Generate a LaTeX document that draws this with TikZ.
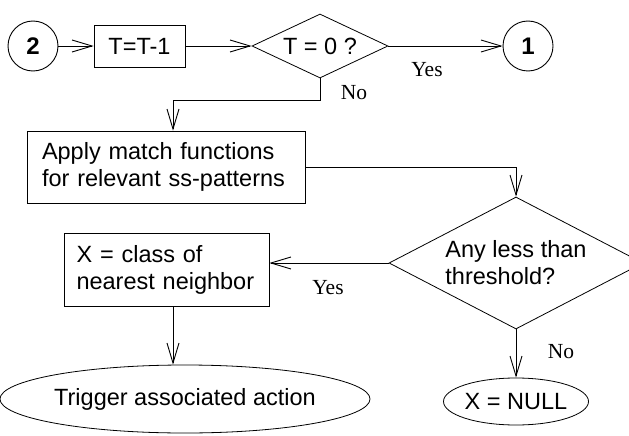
\documentclass[tikz,border=0pt]{standalone}
\usepackage{fontspec}
\setmainfont{Liberation Serif}
\newfontfamily\boxfont{Liberation Sans}
\usetikzlibrary{
    arrows.meta,
    shapes.geometric,
    calc,
    positioning
}
\tikzset{
    conn/.style={circle, draw, line width=0.9pt, minimum size=50pt, inner sep=0pt, font=\boxfont\bfseries\fontsize{24}{28}\selectfont},
    proc/.style={rectangle, draw, line width=0.8pt, inner sep=0pt, font=\boxfont\fontsize{23.5}{27}\selectfont},
    decide/.style={diamond, draw, line width=0.8pt, inner sep=0pt, font=\boxfont\fontsize{23.5}{27}\selectfont},
    term/.style={ellipse, draw, line width=0.8pt, inner sep=0pt, font=\boxfont\fontsize{23.5}{27}\selectfont},
    flow/.style={-{Straight Barb[length=20pt, width=12pt]}, line width=0.9pt},
    lbl/.style={font=\fontsize{21.5}{25}\selectfont}
}

\begin{document}
\begin{tikzpicture}[x=1pt, y=-1pt]
    \useasboundingbox (0, 0) rectangle (629, 436);
    % top row
    \node[conn] (two) at (33, 46) {2};
    \node[proc, minimum width=91pt, minimum height=42pt] (dec) at (139.5, 46) {T=T-1};
    \node[decide, aspect=2.1, minimum width=136pt, minimum height=64pt] (zero) at (320, 46) {T = 0 ?};
    \node[conn] (one) at (528, 46) {1};
    % middle
    \node[proc, text width=248pt, align=left, inner xsep=15pt, minimum height=72pt] (match) at (166, 167) {Apply match functions\\for relevant ss-patterns};
    \node[decide, aspect=1.92, minimum width=254pt, minimum height=132pt, align=left] (thr) at (516, 263) {Any less than\\threshold?};
    \node[proc, text width=180pt, align=left, inner xsep=12.5pt, minimum height=73pt] (cls) at (166.5, 269.5) {X = class of\\nearest neighbor};
    % bottom
    \node[term, minimum width=314pt, minimum height=68pt] (act) at (185, 399) {Trigger associated action};
    \node[term, minimum width=145pt, minimum height=47pt] (null) at (516, 401.5) {X = NULL};
    % branch labels
    \node[lbl] (yes1) at (427, 70) {Yes};
    \node[lbl] (no1) at (354, 93) {No};
    \node[lbl] (yes2) at (328, 288) {Yes};
    \node[lbl] (no2) at (561, 352) {No};
    \draw[flow] (two) -- (dec);
    \draw[flow] (dec) -- (zero);
    \draw[flow] (zero) -- (one);
    \draw[flow] (zero.south) -- ++(0, 22) -| ([xshift=7pt]match.north);
    \draw[flow] (match.east) -| (thr.north);
    \draw[flow] (thr.west) -- (cls.east |- thr.west);
    \draw[flow] ([xshift=6.5pt]cls.south) -- ([xshift=6.5pt]cls.south |- act.north);
    \draw[flow] (thr.south) -- (null.north);
\end{tikzpicture}
\end{document}
